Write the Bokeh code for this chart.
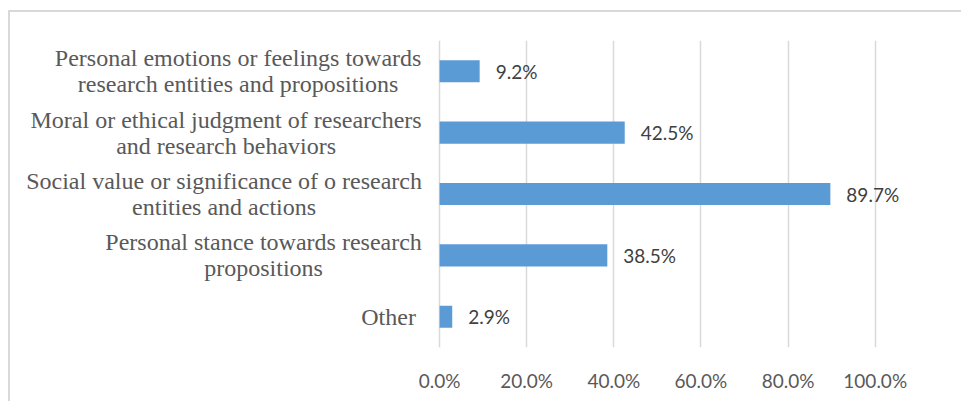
from bokeh.plotting import figure
from bokeh.models import FactorRange, FixedTicker, PrintfTickFormatter
from bokeh.core.properties import value
from bokeh.embed import file_html
from bokeh.resources import INLINE

categories = [
    "Personal emotions or feelings towards\nresearch entities and propositions",
    "Moral or ethical judgment of researchers\nand research behaviors",
    "Social value or significance of o research\nentities and actions",
    "Personal stance towards research\npropositions",
    "Other",
]
percentages = [9.2, 42.5, 89.7, 38.5, 2.9]
labels = ["9.2%", "42.5%", "89.7%", "38.5%", "2.9%"]
x_ticks = [0, 20, 40, 60, 80, 100]

# layout only: approximate pixel width of each category label block
label_block_width = [367, 391, 395, 316, 66]
label_gap = 18

TEXT = "#595959"
DATA_TEXT = "#404040"
GRID = "#D9D9D9"
BAR = "#5B9BD5"

# the frame spans the label column too, so the category labels are drawn
# as text inside it, left of x = 0
p = figure(
    width=953, height=391,
    y_range=FactorRange(factors=list(reversed(categories)), range_padding=0),
    x_range=(-98.5, 112),
    output_backend="svg", toolbar_location=None,
    min_border_left=0, min_border_right=36,
    min_border_top=28, min_border_bottom=56,
)
p.styles = {
    "margin-left": "8px", "margin-top": "10px",
    "border-top": "2px solid #d9d9d9", "border-left": "2px solid #d9d9d9",
}
p.outline_line_color = None

p.hbar(y=categories, right=percentages, left=0, height=0.36,
       fill_color=BAR, line_color=None)
p.text(x=percentages, y=categories, text=labels, x_offset=16,
       text_align="left", text_baseline="middle",
       text_font=value("Lato"), text_font_size="19px", text_color=DATA_TEXT)

p.text(x=[0] * len(categories), y=categories, text=categories,
       x_offset=[-(label_gap + w / 2) for w in label_block_width],
       text_align="center", text_baseline="middle",
       text_font=value("Liberation Serif"), text_font_size="24px",
       text_color=TEXT, text_line_height=1.0)

p.xaxis.ticker = FixedTicker(ticks=x_ticks)
p.xaxis.formatter = PrintfTickFormatter(format="%.1f%%")
p.xaxis.axis_line_color = None
p.xaxis.major_tick_line_color = None
p.xaxis.minor_tick_line_color = None
p.xaxis.major_label_text_font = "Lato"
p.xaxis.major_label_text_font_size = "19px"
p.xaxis.major_label_text_color = TEXT
p.xaxis.major_label_standoff = 15

p.yaxis.visible = False

p.xgrid.grid_line_color = GRID
p.xgrid.grid_line_width = 1.5
p.xgrid.ticker = FixedTicker(ticks=x_ticks)
p.ygrid.grid_line_color = None

open("out.html", "w").write(file_html(p, INLINE))
